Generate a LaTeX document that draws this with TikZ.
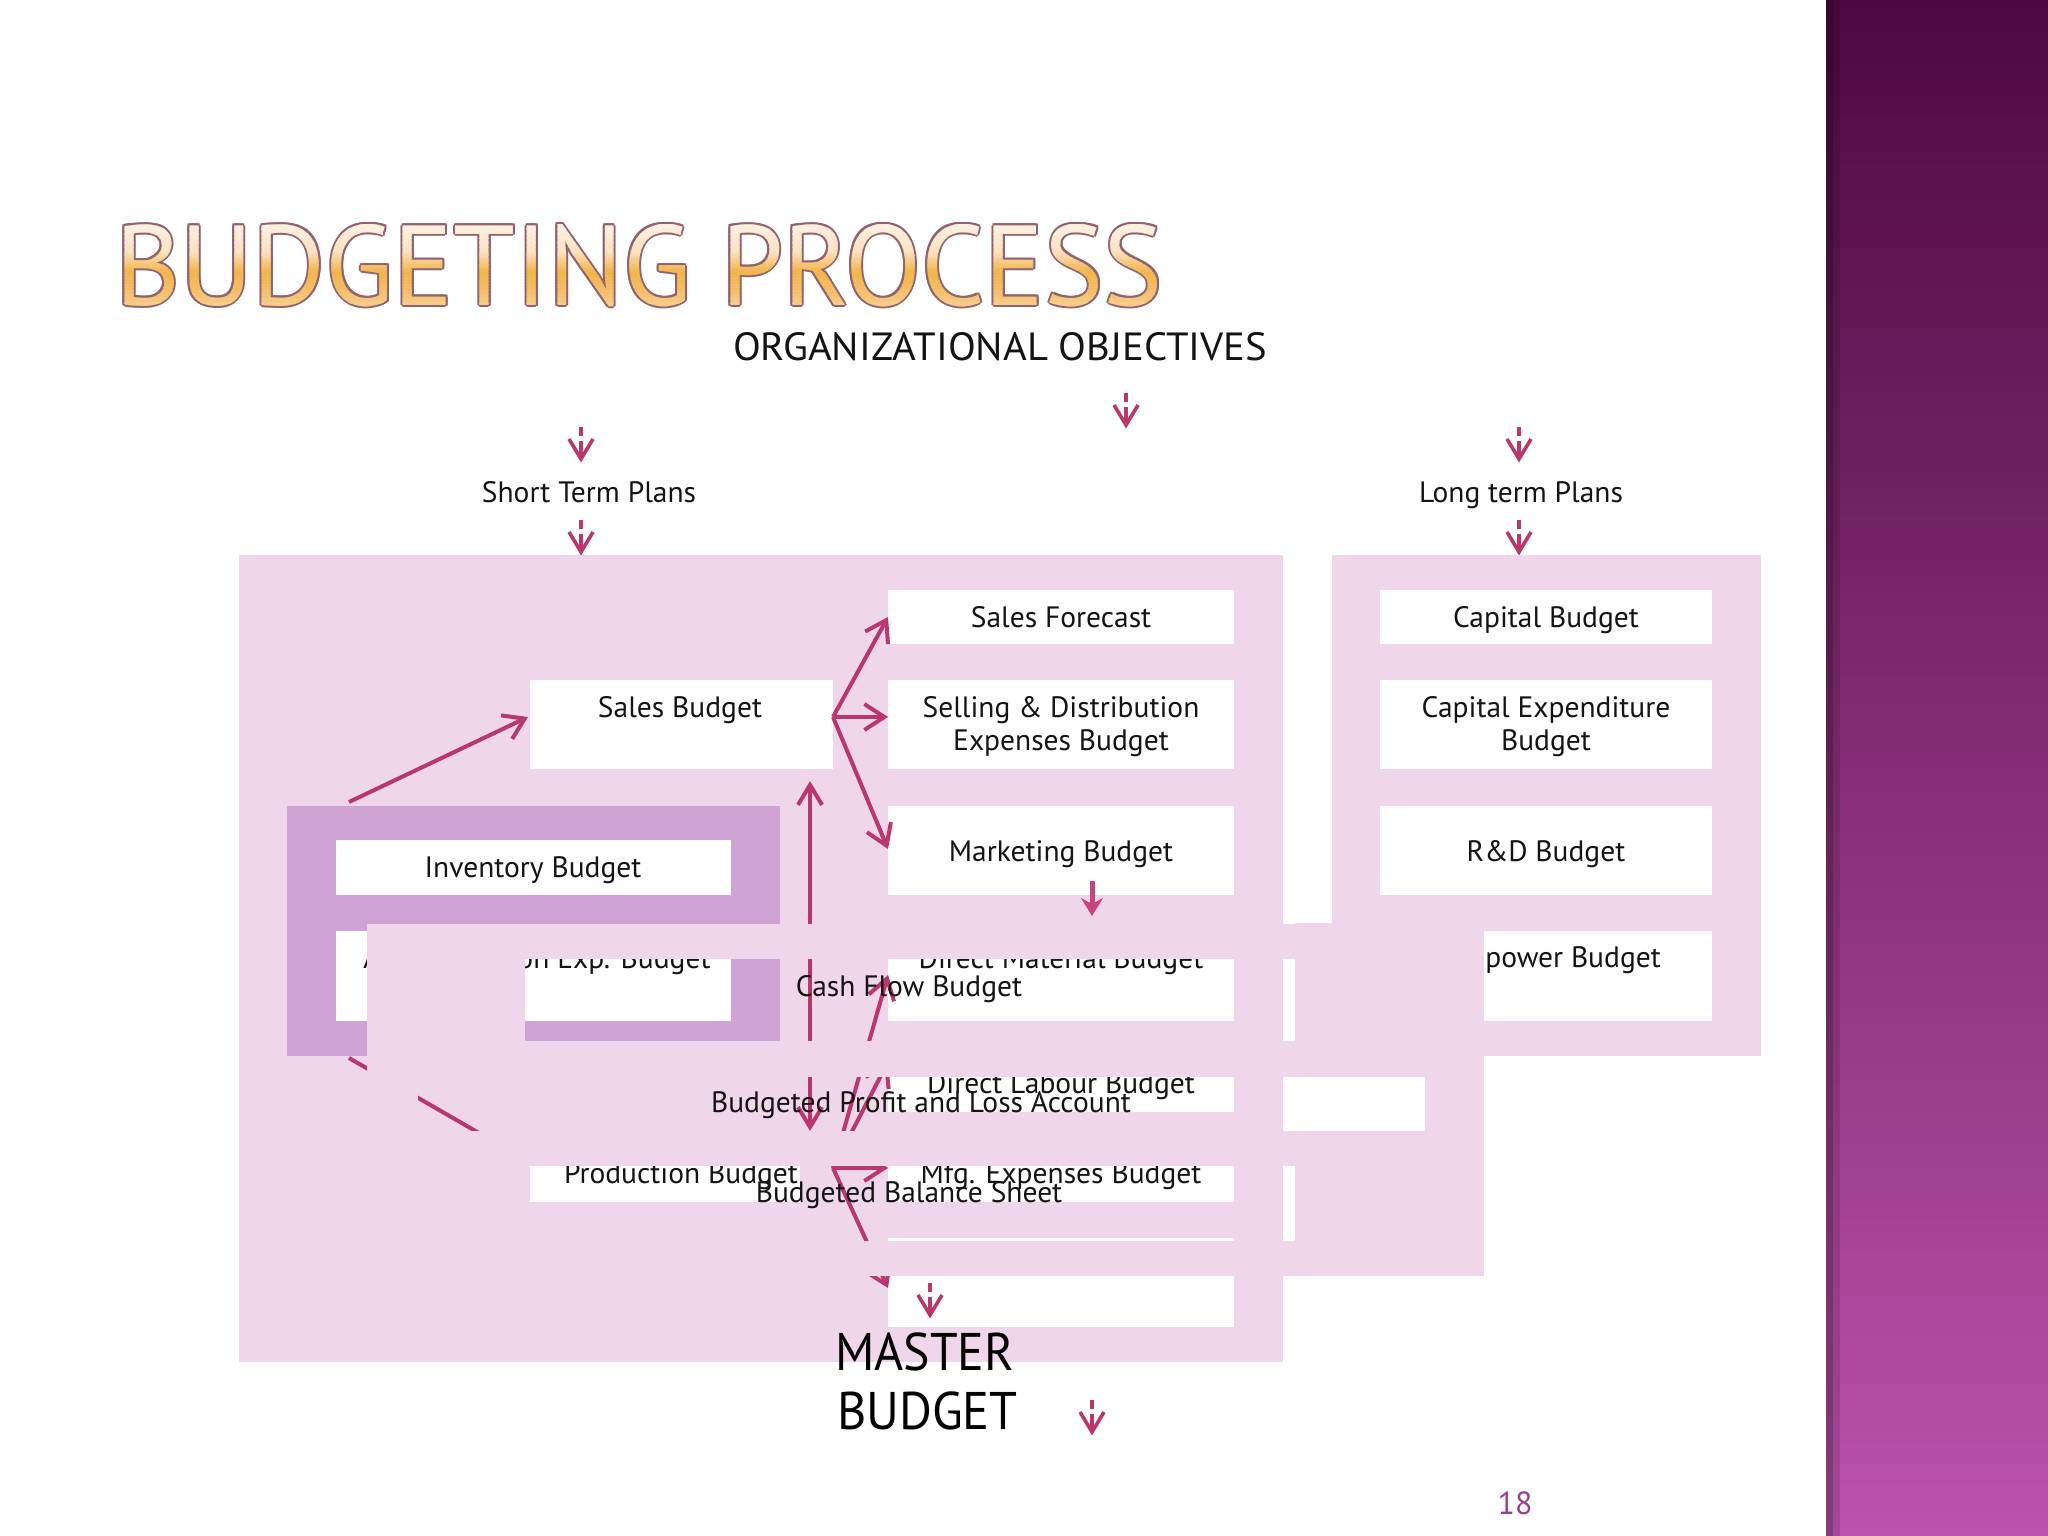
\documentclass[tikz,border=0pt]{standalone}
\usepackage{fontspec}
\setmainfont{PT Sans}
\usetikzlibrary{arrows.meta}
\definecolor{panel}{HTML}{F0D6EB}
\definecolor{invp}{HTML}{CFA3D3}
\definecolor{arr}{HTML}{BA376B}
\definecolor{mkc}{HTML}{C4457F}
\definecolor{barTop}{HTML}{4E0940}
\definecolor{barMid}{HTML}{8A3A7F}
\definecolor{barBot}{HTML}{BB52AC}
\definecolor{tEdge}{HTML}{93626F}
\definecolor{tc0}{HTML}{FFF6EE}
\definecolor{tc1}{HTML}{FBE2C2}
\definecolor{tc2}{HTML}{F1B54C}
\definecolor{tc3}{HTML}{F3BE68}
\definecolor{tc4}{HTML}{F8D6A0}
\definecolor{pnum}{HTML}{9E3E90}
\newcommand\titletxt{\resizebox{1048pt}{81pt}{\fontsize{100}{100}\selectfont BUDGETING PROCESS}}
\newcommand\mkbox[6]{\node[fill=#6, anchor=north west, minimum width={(#4-#2)*1pt}, minimum height={(#5-#3)*1pt}] (#1) at (#2,#3) {};}
% gradient strip: #1 from-y, #2 to-y, #3 start colour, #4 end colour, #5 steps
\newcommand\tgrad[5]{%
  \foreach \k in {1,...,#5}{%
    \pgfmathsetmacro\ya{#1+(#2-#1)*(\k-1)/#5}%
    \pgfmathsetmacro\yb{#1+(#2-#1)*\k/#5+0.6}%
    \pgfmathsetmacro\pc{100*(\k-0.5)/#5}%
    \colorlet{tcc}{#4!\pc!#3}%
    \begin{scope}\clip (100,\ya) rectangle (1200,\yb);
    \node[anchor=base west, text=tcc] (tg#1-\k) at (115,305) {\titletxt};
    \end{scope}}}
\begin{document}
\begin{tikzpicture}[x=1pt,y=-1pt,
  every node/.style={inner sep=0pt, outer sep=0pt},
  lbl/.style={anchor=base, font=\fontsize{29.5}{33}\selectfont, text=black!92},
  conn/.style={draw=arr, line width=4pt, -{Straight Barb[length=20pt,width=26pt]}},
  pics/dnarr/.style={code={
    \draw[arr, line width=3.6pt] (0,0)--(0,9);
    \draw[arr, line width=3.6pt] (0,14)--(0,30);
    \draw[arr, line width=3.6pt, line join=miter] (-12,12)--(0,32)--(12,12);
  }}]
\useasboundingbox (0,0) rectangle (2048,1536);
\fill[white] (0,0) rectangle (2048,1536);
% right bar
\shade[top color=barTop, middle color=barMid, bottom color=barBot] (1826,0) rectangle (2048,1536);
\fill[black, opacity=0.28] (1826,0) rectangle (1833,1536);
\fill[black, opacity=0.12] (1833,0) rectangle (1840,1536);

% title
\foreach \dx/\dy [count=\i] in {-2/0,2/0,0/-2,0/2,-1.5/-1.5,1.5/1.5,-1.5/1.5,1.5/-1.5}{
  \node[anchor=base west, text=tEdge] (tl\i) at ({115+\dx},{305+\dy}) {\titletxt};
}
\tgrad{215}{252}{tc0}{tc1}{8}
\tgrad{252}{272}{tc1}{tc2}{8}
\tgrad{272}{290}{tc2}{tc3}{6}
\tgrad{290}{315}{tc3}{tc4}{6}

\node[anchor=base west, text=black!92] (org) at (733,360) {\resizebox{534pt}{28pt}{\fontsize{40}{40}\selectfont ORGANIZATIONAL OBJECTIVES}};

% small arrows
\pic (a1) at (1126,393) {dnarr};
\pic (a2) at (581,427) {dnarr};
\pic (a3) at (1519,427) {dnarr};
\pic (a4) at (581,520) {dnarr};
\pic (a5) at (1519,520) {dnarr};
\node[lbl] (stp) at (589,502) {Short Term Plans};
\node[lbl] (ltp) at (1521,502) {Long term Plans};

% panels
\mkbox{lpanel}{239}{555}{1283}{1362}{panel}
\mkbox{rpanel}{1332}{555}{1761}{1056}{panel}
\mkbox{invpanel}{287}{806}{780}{1056}{invp}

% white boxes layer A
\mkbox{sf}{888}{590}{1234}{644}{white}
\mkbox{sd}{888}{680}{1234}{769}{white}
\mkbox{sb}{530}{680}{833}{769}{white}
\mkbox{mk}{888}{806}{1234}{895}{white}
\mkbox{cb}{1380}{590}{1712}{644}{white}
\mkbox{ce}{1380}{680}{1712}{769}{white}
\mkbox{rd}{1380}{806}{1712}{895}{white}
\mkbox{mp}{1380}{931}{1712}{1021}{white}
\mkbox{ib}{336}{840}{731}{895}{white}
\mkbox{ab}{336}{931}{731}{1021}{white}
\mkbox{dm}{888}{930}{1234}{1021}{white}
\mkbox{dl}{888}{1060}{1234}{1112}{white}
\mkbox{mf}{888}{1150}{1234}{1241}{white}
\mkbox{lb}{888}{1276}{1234}{1327}{white}
\mkbox{pb}{530}{1150}{800}{1202}{white}

% texts layer A
\node[lbl] (tsf) at (1061,627) {Sales Forecast};
\node[lbl] (tsd1) at (1061,717) {Selling \& Distribution};
\node[lbl] (tsd2) at (1061,750) {Expenses Budget};
\node[lbl] (tsb) at (680,717) {Sales Budget};
\node[lbl] (tmk) at (1061,861) {Marketing Budget};
\node[lbl] (tcb) at (1546,627) {Capital Budget};
\node[lbl] (tce1) at (1546,717) {Capital Expenditure};
\node[lbl] (tce2) at (1546,750) {Budget};
\node[lbl] (trd) at (1546,861) {R\&D Budget};
\node[lbl] (tmp) at (1546,967) {Manpower Budget};
\node[lbl] (tib) at (533,877) {Inventory Budget};
\node[lbl] (tab) at (537,968) {Administration Exp. Budget};
\node[lbl] (tdm) at (1061,968) {Direct Material Budget};
\node[lbl] (tdl) at (1061,1093) {Direct Labour Budget};
\node[lbl] (tmf) at (1061,1183) {Mfg. Expenses Budget};
\node[lbl] (tpb) at (681,1183) {Production Budget};
\begin{scope}\clip (888,1276) rectangle (1234,1327);
\node[lbl, anchor=base east] (tlb) at (1200,1268) {Budget};
\end{scope}

% connectors
\coordinate (invTop) at (349,802);
\coordinate (sbL) at (528,717);
\coordinate (sbR) at (833,717);
\coordinate (sfL) at (888,617);
\coordinate (sdL) at (888,717);
\coordinate (mkL) at (888,849);
\coordinate (vBot) at (810,1131);
\coordinate (vTop) at (810,781);
\coordinate (invBot) at (349,1058);
\coordinate (pbL) at (531,1163);
\coordinate (pbR) at (833,1168);
\coordinate (dmL) at (888,975);
\coordinate (dlL) at (888,1062);
\coordinate (mfL) at (888,1168);
\coordinate (lbL) at (888,1288);
\draw[conn] (invTop) -- (sbL);
\draw[conn] (sbR) -- (sfL);
\draw[conn] (sbR) -- (sdL);
\draw[conn] (sbR) -- (mkL);
\draw[draw=arr, line width=4pt, {Straight Barb[length=20pt,width=24pt]}-{Straight Barb[length=20pt,width=24pt]}] (vBot) -- (vTop);
\draw[conn] (invBot) -- (pbL);
\draw[conn] (pbR) -- (dmL);
\draw[conn] (pbR) -- (dlL);
\draw[conn] (pbR) -- (mfL);
\draw[conn] (pbR) -- (lbL);
\coordinate (mkA) at (1092,881);
\coordinate (mkB) at (1092,916);
\draw[draw=mkc, line width=5pt, -{Stealth[length=18pt,width=22pt,inset=6pt]}] (mkA) -- (mkB);

% overlay layer
\fill[panel] (367,924) rectangle (1484,959);
\fill[panel] (367,959) rectangle (525,1041);
\fill[panel] (367,1041) rectangle (1484,1077);
\fill[panel] (367,1077) rectangle (418,1131);
\fill[panel] (367,1131) rectangle (1484,1166);
\fill[panel] (888,1202) rectangle (1283,1238);
\fill[panel] (367,1241) rectangle (1484,1276);
\fill[panel] (1295,923) rectangle (1484,1276);
\mkbox{wB}{1283}{1077}{1425}{1131}{white}

\node[lbl] (cfb) at (909,996) {Cash Flow Budget};
\node[lbl] (pla) at (921,1112) {Budgeted Profit and Loss Account};
\node[lbl] (bbs) at (909,1202) {Budgeted Balance Sheet};

\pic (a6) at (930,1283) {dnarr};
\pic (a7) at (1092,1400) {dnarr};
\node[anchor=base west, font=\fontsize{53}{60}\selectfont, text=black] (mst) at (835,1370) {\scalebox{0.94}[1]{MASTER}};
\node[anchor=base west, font=\fontsize{53}{60}\selectfont, text=black] (bdg) at (837,1429) {\scalebox{0.95}[1]{BUDGET}};
\node[anchor=base, font=\fontsize{32}{36}\selectfont, text=pnum] (pg) at (1515,1514) {18};
\end{tikzpicture}
\end{document}
